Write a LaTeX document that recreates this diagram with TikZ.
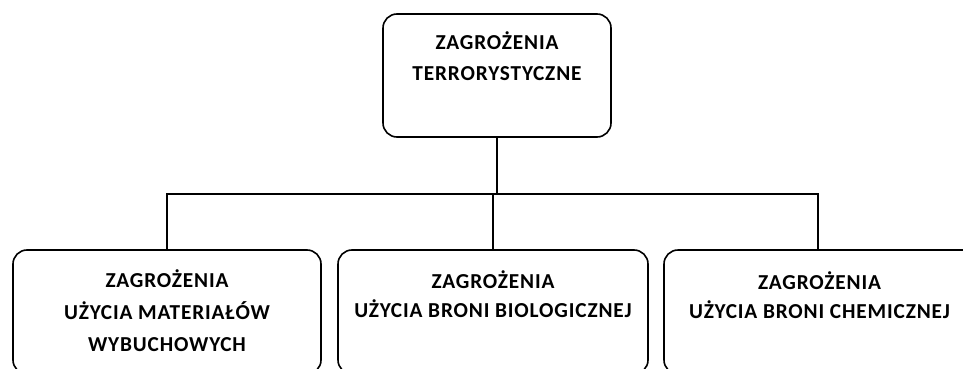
\documentclass[tikz,border=0pt]{standalone}
\usepackage{fontspec}
\setmainfont{Carlito}
\newfontfamily\lblfont[LetterSpace=4]{Carlito}
\begin{document}
\begin{tikzpicture}[x=1pt,y=-1pt,
  box/.style={draw, line width=1.6pt, rounded corners=14pt, minimum width=#1, inner sep=0pt},
  lbl/.style={anchor=north, align=center, font=\lblfont\bfseries\fontsize{21.3}{#1}\selectfont, inner sep=0pt},
  link/.style={line width=1.6pt}]
\useasboundingbox (0,0) rectangle (963,369);
\clip (0,0) rectangle (963,369);
% top box
\node[box=228pt, minimum height=123pt] (top) at (497,75.5) {};
\node[lbl=31] (toptxt) at ([yshift=-18.5pt]top.north) {ZAGROŻENIA\\TERRORYSTYCZNE};
% bottom boxes (run past the lower and right edges)
\node[box=308pt, minimum height=124pt] (b1) at (167,312) {};
\node[box=310pt, minimum height=124pt] (b2) at (493,312) {};
\node[box=316pt, minimum height=124pt] (b3) at (822,312) {};
\node[lbl=32] (t1) at ([yshift=-20pt]b1.north) {ZAGROŻENIA\\UŻYCIA MATERIAŁÓW\\WYBUCHOWYCH};
\node[lbl=29] (t2) at ([yshift=-21pt]b2.north) {ZAGROŻENIA\\UŻYCIA BRONI BIOLOGICZNEJ};
\node[lbl=29] (t3) at (819.5,271) {ZAGROŻENIA\\UŻYCIA BRONI CHEMICZNEJ};
% connectors
\coordinate (bus) at (493,194);
\coordinate (drop3) at (818,194);
\draw[link] (top.south) -- (top.south |- bus);
\draw[link] (b1.north) -- (b1.north |- bus) -- (drop3) -- (drop3 |- b3.north);
\draw[link] (b2.north) -- (b2.north |- bus);
\end{tikzpicture}
\end{document}
